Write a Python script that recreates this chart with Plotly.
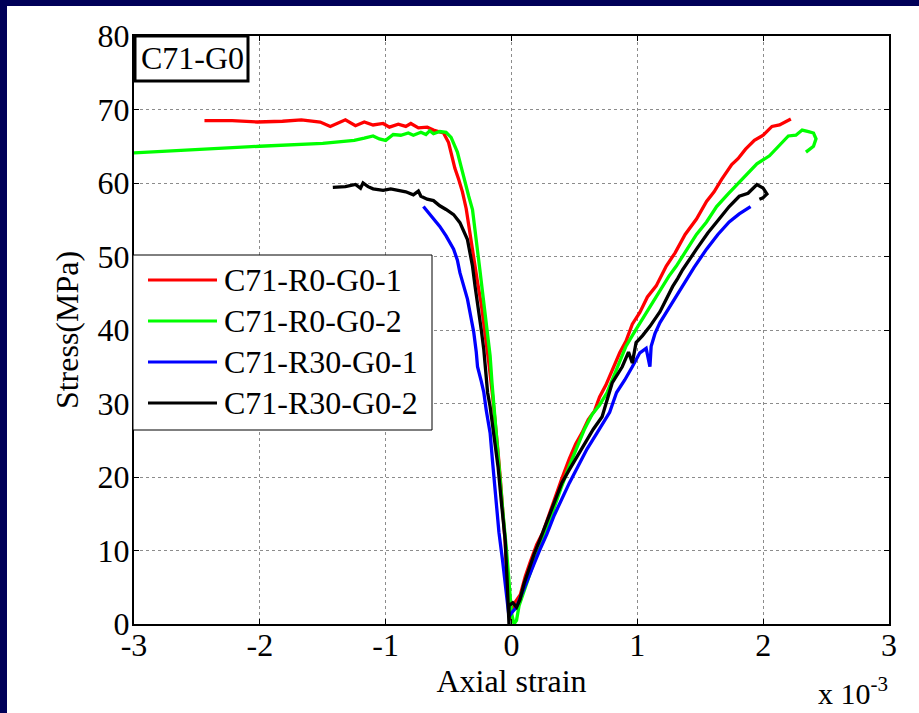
import plotly.graph_objects as go

# ---------------- data (strain in units of 1e-3, stress in MPa) ----------------
series_names = ["C71-R0-G0-1", "C71-R0-G0-2", "C71-R30-G0-1", "C71-R30-G0-2"]
series_colors = ["#ff0000", "#00ff00", "#0000ff", "#000000"]

red_x = [-2.44, -2.22, -2.02, -1.82, -1.67, -1.52, -1.44, -1.37, -1.32, -1.24, -1.17, -1.10, -1.02,
         -0.97, -0.90, -0.84, -0.80, -0.74, -0.67, -0.62, -0.57, -0.54, -0.50, -0.47, -0.45, -0.42,
         -0.39, -0.36, -0.34, -0.32, -0.30, -0.27, -0.24, -0.22, -0.20, -0.18, -0.15, -0.13, -0.11,
         -0.09, -0.07, -0.05, -0.035, -0.01,
         0.00, 0.03, 0.07, 0.11, 0.15, 0.20, 0.25, 0.30, 0.35, 0.40, 0.46, 0.51, 0.56, 0.61, 0.66,
         0.70, 0.75, 0.80, 0.86, 0.91, 0.96, 1.02, 1.08, 1.15, 1.23, 1.30, 1.38, 1.47, 1.55, 1.61,
         1.67, 1.75, 1.80, 1.86, 1.93, 2.00, 2.07, 2.13, 2.18, 2.22]
red_y = [68.5, 68.5, 68.3, 68.4, 68.6, 68.3, 67.7, 68.2, 68.6, 67.8, 68.3, 67.9, 68.1,
         67.6, 68.0, 67.7, 68.1, 67.5, 67.6, 67.2, 67.0, 66.8, 65.5, 63.5, 62.0, 60.5,
         58.8, 56.5, 54.2, 52.0, 49.5, 46.5, 43.5, 41.0, 38.5, 35.5, 31.0, 28.0, 24.0,
         20.0, 15.5, 11.0, 6.0, 0.5,
         1.5, 3.0, 4.0, 6.5, 8.5, 10.8, 12.5, 15.0, 17.5, 19.8, 22.5, 24.5, 26.0, 27.8, 29.0,
         30.9, 32.5, 34.5, 36.9, 38.5, 40.8, 42.4, 44.5, 46.0, 48.7, 50.5, 53.0, 55.1, 57.5, 58.8,
         60.5, 62.5, 63.3, 64.6, 65.8, 66.5, 67.7, 67.9, 68.4, 68.7]

green_x = [-3.00, -2.50, -2.00, -1.50, -1.25, -1.17, -1.10, -1.05, -1.00, -0.94, -0.88, -0.82, -0.78,
           -0.72, -0.68, -0.65, -0.62, -0.57, -0.52, -0.48, -0.45, -0.43, -0.40, -0.37, -0.34, -0.31,
           -0.29, -0.27, -0.25, -0.23, -0.21, -0.19, -0.17, -0.155, -0.135, -0.11, -0.09, -0.07,
           -0.04, -0.02, 0.00, 0.02,
           0.04, 0.06, 0.09, 0.13, 0.18, 0.23, 0.28, 0.34, 0.40, 0.46, 0.52, 0.58, 0.64, 0.70,
           0.76, 0.83, 0.91, 0.98, 1.04, 1.10, 1.18, 1.25, 1.31, 1.38, 1.47, 1.55, 1.63, 1.72,
           1.81, 1.88, 1.95, 2.05, 2.12, 2.20, 2.26, 2.31, 2.36, 2.40, 2.42, 2.40, 2.34]
green_y = [64.1, 64.6, 65.0, 65.4, 65.8, 66.1, 66.4, 66.0, 65.8, 66.6, 66.5, 66.8, 66.5,
           66.9, 66.6, 67.1, 66.7, 67.0, 66.9, 66.2, 65.0, 64.2, 62.2, 60.1, 58.2, 56.4,
           53.8, 51.0, 48.0, 45.1, 42.5, 39.7, 36.5, 32.8, 28.5, 23.7, 19.5, 15.5,
           10.1, 5.0, 1.5, 0.0,
           0.5, 2.5, 4.0, 6.0, 8.5, 10.5, 13.0, 16.0, 18.8, 21.5, 24.0, 26.5, 28.5, 29.8,
           31.5, 34.5, 37.8, 39.8, 41.5, 43.2, 45.5, 47.3, 48.7, 50.5, 53.0, 54.7, 56.8, 58.5,
           60.1, 61.5, 62.6, 63.7, 65.0, 66.4, 66.5, 67.2, 67.0, 66.8, 66.0, 65.0, 64.2]

blue_x = [-0.70, -0.66, -0.62, -0.57, -0.52, -0.46, -0.43, -0.41, -0.38, -0.35, -0.32, -0.30, -0.28,
          -0.27, -0.24, -0.22, -0.20, -0.17, -0.15, -0.12, -0.10, -0.07, -0.05, -0.03, -0.02,
          0.00, 0.04, 0.08, 0.13, 0.18, 0.225, 0.28, 0.34, 0.40, 0.46, 0.53, 0.60, 0.68, 0.78,
          0.835, 0.90, 0.96, 1.02, 1.07, 1.10, 1.11, 1.14, 1.18, 1.26, 1.36, 1.45, 1.55, 1.64,
          1.73, 1.81, 1.90]
blue_y = [56.8, 56.0, 55.2, 54.1, 52.8, 51.0, 49.5, 47.8, 46.0, 44.2, 41.5, 39.7, 37.0,
          35.0, 33.0, 31.5, 29.0, 26.0, 22.0, 16.0, 12.5, 8.5, 5.6, 2.5, 1.0,
          1.5, 2.3, 4.0, 6.0, 8.2, 10.1, 12.2, 14.8, 17.0, 19.2, 21.5, 23.8, 26.0, 28.8,
          31.5, 33.2, 35.0, 36.9, 37.5, 35.0, 37.8, 39.5, 41.0, 43.2, 45.9, 48.5, 51.0, 53.0,
          54.7, 55.8, 56.8]

black_x = [-1.42, -1.32, -1.24, -1.20, -1.18, -1.14, -1.10, -1.02, -0.96, -0.91, -0.84, -0.78, -0.74,
           -0.72, -0.67, -0.62, -0.57, -0.52, -0.46, -0.41, -0.38, -0.35, -0.33, -0.31, -0.29,
           -0.265, -0.24, -0.22, -0.19, -0.17, -0.14, -0.107, -0.08, -0.05, -0.035, -0.03, -0.02,
           -0.02, 0.01, 0.04, 0.067, 0.10, 0.146, 0.18, 0.225, 0.28, 0.34, 0.40, 0.46, 0.52,
           0.58, 0.65, 0.72, 0.76, 0.80, 0.88, 0.93, 0.96, 0.99, 1.04, 1.10, 1.18, 1.28, 1.32,
           1.36, 1.47, 1.56, 1.65, 1.73, 1.81, 1.88, 1.95, 2.00, 2.03, 2.00, 1.97]
black_y = [59.4, 59.5, 59.8, 59.3, 60.0, 59.5, 59.2, 59.0, 59.2, 59.0, 58.8, 58.4, 58.9,
           58.2, 57.8, 57.6, 56.9, 56.4, 55.7, 54.6, 53.5, 52.3, 50.5, 48.7, 46.0,
           43.2, 40.0, 37.3, 31.5, 29.6, 25.5, 21.4, 16.5, 11.4, 6.0, 2.9, 0.0,
           2.5, 2.9, 2.3, 3.3, 5.5, 7.8, 9.5, 11.4, 13.8, 16.5, 19.2, 21.0, 22.8,
           24.5, 26.5, 28.2, 30.5, 32.8, 35.0, 37.0, 35.5, 38.3, 39.2, 40.5, 42.5, 45.9, 47.0,
           48.2, 51.0, 53.2, 55.1, 56.8, 58.2, 58.6, 59.8, 59.3, 58.5, 58.0, 57.8]

x_tick_vals = [-3, -2, -1, 0, 1, 2, 3]
x_tick_text = ["-3", "-2", "-1", "0", "1", "2", "3"]
y_tick_vals = [0, 10, 20, 30, 40, 50, 60, 70, 80]

panel_label = "C71-G0"
x_title = "Axial strain"
y_title = "Stress(MPa)"
x_multiplier = "x 10<sup>-3</sup>"

# ---------------- figure ----------------
W, H = 919, 713
L, R, T, B = 134, 30, 36, 89
PW, PH = W - L - R, H - T - B


def px(x):
    return (x - L) / PW


def py(y):
    return (H - B - y) / PH


FONT = "Liberation Serif, Times New Roman, serif"
NAVY = "#000058"

fig = go.Figure()
all_x = [red_x, green_x, blue_x, black_x]
all_y = [red_y, green_y, blue_y, black_y]
for name, color, xs, ys in zip(series_names, series_colors, all_x, all_y):
    fig.add_trace(go.Scatter(x=xs, y=ys, mode="lines", name=name,
                             line=dict(color=color, width=3.3), showlegend=False))

shapes = []
# slide-like navy frame strips (left and top)
shapes.append(dict(type="rect", xref="paper", yref="paper", x0=px(-5), x1=px(7),
                   y0=py(H + 5), y1=py(-5), fillcolor=NAVY, line=dict(width=0), layer="below"))
shapes.append(dict(type="rect", xref="paper", yref="paper", x0=px(-5), x1=px(W + 5),
                   y0=py(6), y1=py(-5), fillcolor=NAVY, line=dict(width=0), layer="below"))
# panel label box
shapes.append(dict(type="rect", xref="paper", yref="paper", x0=px(135), x1=px(248),
                   y0=py(81), y1=py(36), fillcolor="white", line=dict(color="black", width=3)))
# legend box
shapes.append(dict(type="rect", xref="paper", yref="paper", x0=px(133), x1=px(432),
                   y0=py(430), y1=py(255), fillcolor="white", line=dict(color="black", width=1)))

annotations = [
    dict(text=panel_label, xref="paper", yref="paper", x=px(192), y=py(58), showarrow=False,
         xanchor="center", yanchor="middle", font=dict(family=FONT, size=32, color="black")),
    dict(text=x_multiplier, xref="paper", yref="paper", x=px(890), y=py(712), showarrow=False,
         xanchor="right", yanchor="bottom", font=dict(family=FONT, size=30, color="black")),
]

legend_rows = [280, 321, 362, 403]
for name, color, ry in zip(series_names, series_colors, legend_rows):
    shapes.append(dict(type="line", xref="paper", yref="paper", x0=px(148), x1=px(217),
                       y0=py(ry), y1=py(ry), line=dict(color=color, width=3)))
    annotations.append(dict(text=name, xref="paper", yref="paper", x=px(222), y=py(ry),
                            showarrow=False, xanchor="left", yanchor="middle",
                            font=dict(family=FONT, size=32, color="black")))

axis_common = dict(showgrid=True, gridcolor="#8c8c8c", griddash="dot", gridwidth=1,
                   showline=True, linecolor="black", linewidth=2, mirror="ticks",
                   ticks="inside", ticklen=5, tickcolor="black", tickwidth=1,
                   zeroline=False, tickfont=dict(family=FONT, size=32, color="black"))

fig.update_layout(
    width=W, height=H,
    margin=dict(l=L, r=R, t=T, b=B),
    paper_bgcolor="white",
    plot_bgcolor="white",
    shapes=shapes,
    annotations=annotations,
    xaxis=dict(range=[-3, 3], tickvals=x_tick_vals, ticktext=x_tick_text, ticklabelstandoff=-8,
               title=dict(text=x_title, font=dict(family=FONT, size=32, color="black"), standoff=6),
               **axis_common),
    yaxis=dict(range=[0, 80], tickvals=y_tick_vals, ticklabelstandoff=-4,
               title=dict(text=y_title, font=dict(family=FONT, size=32, color="black"), standoff=9),
               **axis_common),
)

fig.write_html("out.html", config={"displayModeBar": False},
               post_script="document.body.style.margin='0px';")
